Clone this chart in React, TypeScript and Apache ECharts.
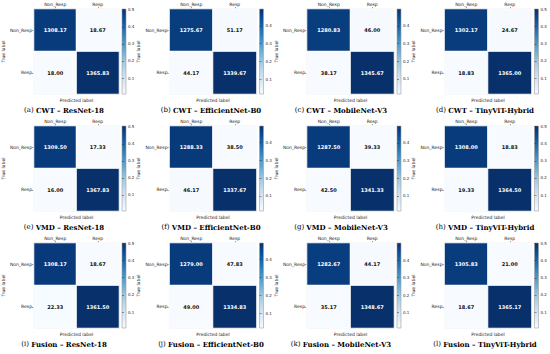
import React, { useEffect, useRef } from 'react';
import * as echarts from 'echarts';

const classLabels = ['Non_Resp', 'Resp'];
const methods = ['CWT', 'VMD', 'Fusion'];
const models = ['ResNet-18', 'EfficientNet-B0', 'MobileNet-V3', 'TinyViT-Hybrid'];
const panelLetters = ['a', 'b', 'c', 'd', 'e', 'f', 'g', 'h', 'i', 'j', 'k', 'l'];

// row-major: [NonResp->NonResp, NonResp->Resp, Resp->NonResp, Resp->Resp]
const cwtMatrices = [
  [1308.17, 18.67, 18.0, 1365.83],
  [1275.67, 51.17, 44.17, 1339.67],
  [1280.83, 46.0, 38.17, 1345.67],
  [1302.17, 24.67, 18.83, 1365.0],
];
const vmdMatrices = [
  [1309.5, 17.33, 16.0, 1367.83],
  [1288.33, 38.5, 46.17, 1337.67],
  [1287.5, 39.33, 42.5, 1341.33],
  [1308.0, 18.83, 19.33, 1364.5],
];
const fusionMatrices = [
  [1308.17, 18.67, 22.33, 1361.5],
  [1279.0, 47.83, 49.0, 1334.83],
  [1282.67, 44.17, 35.17, 1348.67],
  [1305.83, 21.0, 18.67, 1365.17],
];
const colorbarTicks = [0.1, 0.2, 0.3, 0.4, 0.5];

const blues = ['#f7fbff', '#deebf7', '#c6dbef', '#9ecae1', '#6baed6', '#4292c6', '#2171b5', '#08519c', '#08306b'];

const colLeft = [32, 169.5, 307, 444.5];
const captionX = [64, 211, 341, 485];
const rowTop = [9, 126, 243];
const MW = 87;
const MH = 85;
const SANS = 'DejaVu Sans';
const SERIF = 'DejaVu Serif';

export default function App() {
  const ref = useRef<HTMLDivElement>(null);
  useEffect(() => {
    const chart = echarts.init(ref.current!, null, { renderer: 'svg' });
    const grid: any[] = [];
    const xAxis: any[] = [];
    const yAxis: any[] = [];
    const series: any[] = [];
    const visualMap: any[] = [];
    const graphic: any[] = [];
    const all = [cwtMatrices, vmdMatrices, fusionMatrices];
    all.forEach((mats, r) => {
      mats.forEach((m, c) => {
        const idx = r * 4 + c;
        const left = colLeft[c];
        const top = rowTop[r];
        const total = m.reduce((a, b) => a + b, 0);
        const norm = m.map((v) => v / total);
        const vmin = Math.min(...norm);
        const vmax = Math.max(...norm);
        const thresh = (vmin + vmax) / 2;

        const gi = grid.length;
        grid.push({ left, top, width: MW, height: MH, show: true, borderColor: '#a0a0a0', borderWidth: 0.8, backgroundColor: 'transparent' });
        const xi = xAxis.length;
        xAxis.push({
          gridIndex: gi, type: 'category', data: classLabels, position: 'top',
          axisLine: { show: false },
          axisTick: { show: true, alignWithLabel: true, length: 2, lineStyle: { color: '#333', width: 0.5 } },
          axisLabel: { fontSize: 4.5, margin: 2, color: '#222', fontFamily: SANS },
          splitLine: { show: false },
        });
        xAxis.push({
          gridIndex: gi, type: 'category', data: classLabels, position: 'bottom',
          axisLine: { show: false }, axisTick: { show: false }, axisLabel: { show: false },
          name: 'Predicted label', nameLocation: 'middle', nameGap: 4,
          nameTextStyle: { fontSize: 4.5, color: '#222', fontFamily: SANS },
        });
        const yi = yAxis.length;
        yAxis.push({
          gridIndex: gi, type: 'category', data: classLabels, inverse: true,
          axisLine: { show: false },
          axisTick: { show: true, alignWithLabel: true, length: 2, lineStyle: { color: '#333', width: 0.5 } },
          axisLabel: { fontSize: 4.5, margin: 2, color: '#222', fontFamily: SANS },
          splitLine: { show: false },
          name: 'True label', nameLocation: 'middle', nameGap: 26, nameRotate: 90,
          nameTextStyle: { fontSize: 4.5, color: '#222', fontFamily: SANS },
        });

        series.push({
          type: 'heatmap', xAxisIndex: xi, yAxisIndex: yi,
          data: m.map((v, k) => ({
            value: [k % 2, Math.floor(k / 2), norm[k], v],
            label: { color: norm[k] > thresh ? '#ffffff' : '#111111' },
          })),
          label: {
            show: true, fontSize: 5, fontWeight: 'bold', fontFamily: SANS,
            formatter: (p: any) => p.value[3].toFixed(2),
          },
          itemStyle: { borderColor: '#ffffff', borderWidth: 1 },
          emphasis: { disabled: true },
        });
        visualMap.push({
          type: 'continuous', show: false, seriesIndex: idx, dimension: 2,
          min: vmin, max: vmax, inRange: { color: blues },
        });

        // colorbar
        const gc = grid.length;
        grid.push({
          left: left + MW + 3, top, width: 4, height: MH, show: true,
          borderColor: '#a0a0a0', borderWidth: 0.6,
          backgroundColor: new echarts.graphic.LinearGradient(0, 1, 0, 0,
            blues.map((col, i) => ({ offset: i / (blues.length - 1), color: col }))),
        });
        xAxis.push({ gridIndex: gc, type: 'value', show: false, min: 0, max: 1 });
        const ticks = colorbarTicks.filter((t) => t >= vmin && t <= vmax);
        yAxis.push({
          gridIndex: gc, type: 'value', min: vmin, max: vmax, position: 'right',
          axisLine: { show: false }, splitLine: { show: false },
          axisTick: { show: true, length: 2, customValues: ticks, lineStyle: { color: '#333', width: 0.5 } },
          axisLabel: { fontSize: 4, margin: 2, color: '#222', fontFamily: SANS, customValues: ticks, formatter: (v: number) => v.toFixed(1) },
        });

        graphic.push({
          type: 'text', x: captionX[c], y: top + 101,
          style: {
            text: `{n|(${panelLetters[idx]}) }{b|${methods[r]} – ${models[c]}}`,
            align: 'center', verticalAlign: 'middle',
            rich: {
              n: { fontFamily: SERIF, fontSize: 7, fontWeight: 'normal', fill: '#000' },
              b: { fontFamily: SERIF, fontSize: 7, fontWeight: 'bold', fill: '#000' },
            },
          },
        });
      });
    });

    chart.setOption({
      animation: false,
      backgroundColor: '#ffffff',
      grid, xAxis, yAxis, series, visualMap, graphic,
      tooltip: { show: false },
    });
    return () => chart.dispose();
  }, []);
  return <div ref={ref} style={{ position: 'absolute', left: 0, top: 0, width: 550, height: 354 }} />;
}
